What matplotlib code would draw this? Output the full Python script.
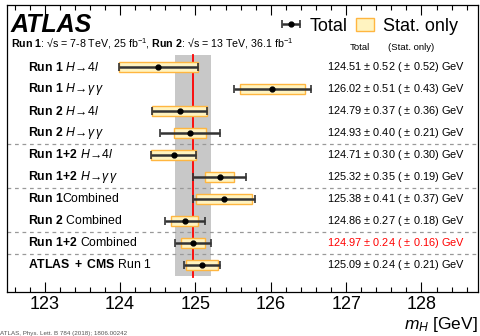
import matplotlib
matplotlib.use("Agg")
import matplotlib.pyplot as plt
from matplotlib.patches import Patch

plt.rcParams['font.family'] = ['Liberation Sans', 'DejaVu Sans']
plt.rcParams['mathtext.fontset'] = 'custom'
plt.rcParams['mathtext.rm'] = 'Liberation Sans'
plt.rcParams['mathtext.it'] = 'Liberation Sans:italic'
plt.rcParams['mathtext.bf'] = 'Liberation Sans:bold'

# datos
etiquetas = [r"$\mathbf{Run\ 1}\ H\!\rightarrow\!4l$",
             r"$\mathbf{Run\ 1}\ H\!\rightarrow\!\gamma\,\gamma$",
             r"$\mathbf{Run\ 2}\ H\!\rightarrow\!4l$",
             r"$\mathbf{Run\ 2}\ H\!\rightarrow\!\gamma\,\gamma$",
             r"$\mathbf{Run\ 1\!+\!2}\ H\!\rightarrow\!4l$",
             r"$\mathbf{Run\ 1\!+\!2}\ H\!\rightarrow\!\gamma\,\gamma$",
             r"$\mathbf{Run\ 1}$Combined",
             r"$\mathbf{Run\ 2}$ Combined",
             r"$\mathbf{Run\ 1\!+\!2}$ Combined",
             r"$\mathbf{ATLAS\ +\ CMS}$ Run 1"]
masa = [124.51, 126.02, 124.79, 124.93, 124.71, 125.32, 125.38, 124.86, 124.97, 125.09]
err_total = [0.52, 0.51, 0.37, 0.40, 0.30, 0.35, 0.41, 0.27, 0.24, 0.24]
err_stat = [0.52, 0.43, 0.36, 0.21, 0.30, 0.19, 0.37, 0.18, 0.16, 0.21]
separadores = [3.5, 5.5, 7.5, 8.5]
combinado = 8  # indice del resultado Run 1+2 Combined

filas = list(range(len(masa)))

fig = plt.figure(figsize=(4.81, 3.36), dpi=100)
ax = fig.add_axes([7/481, 1 - 292/336, 471/481, 287/336])

# banda gris y linea roja del combinado
ax.axvspan(masa[combinado] - err_total[combinado], masa[combinado] + err_total[combinado],
           ymin=(10.23 - 9.5) / 13.05, ymax=(10.23 + 0.55) / 13.05,
           color='#c8c8c8', lw=0, zorder=0)
ax.axvline(masa[combinado], ymin=(10.23 - 9.55) / 13.05, ymax=(10.23 + 0.55) / 13.05,
           color='red', lw=1.3, zorder=1)

for s in separadores:
    ax.axhline(s, color='#999999', ls=(0, (3, 3)), lw=0.9, zorder=1)

# cajas de error estadistico
ax.barh(filas, [2 * e for e in err_stat], left=[m - e for m, e in zip(masa, err_stat)],
        height=0.46, color='#fff3c0', edgecolor='#ffb640', lw=1.0, zorder=2)
eb = ax.errorbar(masa, filas, xerr=err_total, fmt='o', color='black', ecolor='#333333',
                 elinewidth=1.8, capsize=3, capthick=1.2, markersize=3.5, zorder=3)

tr = ax.get_yaxis_transform()
x_etq = 21 / 471
x_val = 320 / 471
for i in filas:
    ax.text(x_etq, i, etiquetas[i], transform=tr, fontsize=8.8, va='center', ha='left')
    col = 'red' if i == combinado else 'black'
    ax.text(x_val, i, "%.2f $\\pm$ %.2f ( $\\pm$ %.2f) GeV" % (masa[i], err_total[i], err_stat[i]),
            transform=tr, fontsize=7.9, va='center', ha='left', color=col)

ax.text(343 / 471, -0.91, "Total", transform=tr, fontsize=6.8, va='center', ha='left')
ax.text(381 / 471, -0.91, "(Stat. only)", transform=tr, fontsize=6.8, va='center', ha='left')

ax.text(4 / 471, -1.92, "ATLAS", transform=tr, fontsize=18,
        fontweight='bold', fontstyle='italic', va='center', ha='left')
ax.text(4 / 471, -1.05,
        r"$\mathbf{Run\ 1}$: √s = 7-8 TeV, 25 fb$^{-1}$, $\mathbf{Run\ 2}$: √s = 13 TeV, 36.1 fb$^{-1}$",
        transform=tr, fontsize=7.7, va='center', ha='left')

ax.legend([eb, Patch(facecolor='#fff3c0', edgecolor='#ffb640')], ["Total", "Stat. only"],
          loc='upper right', bbox_to_anchor=(0.985, 1.0), ncol=2, frameon=False,
          fontsize=13, handlelength=1.0, handletextpad=0.5, columnspacing=0.5,
          borderpad=0.2)

ax.set_xlim(122.5, 128.75)
ax.set_ylim(10.23, -2.82)
ax.set_xticks([123, 124, 125, 126, 127, 128])
ax.set_xticks([x / 5 for x in range(613, 644)], minor=True)
ax.set_yticks([])
ax.tick_params(axis='x', which='both', direction='in', top=True, labelsize=13, pad=3)
ax.tick_params(axis='x', which='major', length=7.5, width=0.8)
ax.tick_params(axis='x', which='minor', length=3.8, width=0.8)
for sp in ax.spines.values():
    sp.set_linewidth(0.9)
ax.set_xlabel(r"$m_H$ [GeV]", fontsize=12.5, ha='right', va='center')
ax.xaxis.set_label_coords(1.0, -33 / 287)

fig.text(0.0, 0.0, "ATLAS, Phys. Lett. B 784 (2018); 1806.00242", fontsize=4.5,
         color='#555555', va='bottom', ha='left')

fig.savefig("out.png", dpi=100)
